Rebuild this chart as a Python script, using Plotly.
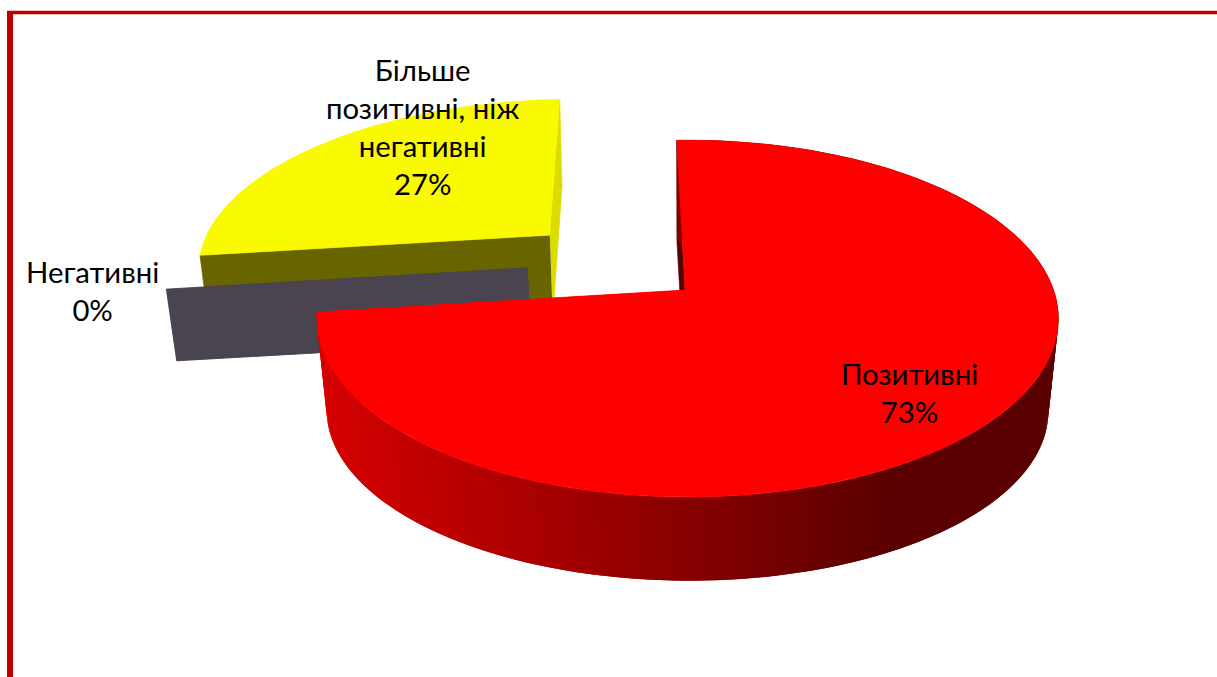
"""3D-style exploded pie drawn as filled polygons (Plotly has no perspective pie)."""

import numpy as np
import plotly.graph_objects as go

CATEGORIES = ["Позитивні", "Негативні", "Більше<br>позитивні, ніж<br>негативні"]
SHARES = [73, 0, 27]

TOP_COLORS = ["#FF0000", "#4A4350", "#F9F900"]
FRONT_WALL_COLORS = ["#FF0000", "#4A4350", "#686400"]
END_WALL_COLORS = ["#5A0000", "#4A4350", "#DCDC00"]
OFFSETS = [(0.0, 0.0), (-0.44, -0.13), (-0.39, -0.333)]  # explosion in disc units
THICKNESS = [1.0, 0.76, 0.85]
LABEL_X = [909, 92, 422]
LABEL_Y = [392, 290, 126]

FONT = "Lato, Carlito, 'Open Sans', sans-serif"
FONT_SIZE = 29.3
FRAME = "#C00000"

# projection of the unit disc into the 1217x677 canvas
CX, CY = 685, 290
A, B_TOP, B_BOTTOM = 366, 173.9, 155
K, H, M, DEPTH = 0.16, 0.007, 0.027, 97
RED_START_TILT = -1.5
YELLOW_END_TILT = -1.5


def project(u, v, z=0.0):
    """Perspective projection of disc point (u, v) at depth z (0 top, 1 bottom)."""
    w = 1 - K * v - H * u + M * z
    b = B_TOP + (B_BOTTOM - B_TOP) * z
    return CX + A * u / w, CY + (b * v + DEPTH * z) / w


def rim(deg, off):
    t = np.radians(deg)
    return off[0] + np.sin(t), off[1] - np.cos(t)


def add_poly(fig, x, y, color, width=0.6):
    fig.add_trace(go.Scatter(
        x=list(x), y=list(y), mode="lines", fill="toself", fillcolor=color,
        line=dict(color=color, width=width), hoverinfo="skip", showlegend=False,
    ))


def wall_color(x):
    # side wall darkens from left to right, flat past x=880
    f = min(max((x - 320) / 560, 0), 1)
    return f"rgb({int(216 + (90 - 216) * f)},0,0)"


def end_walls(fig, i, a0, a1):
    off, th = OFFSETS[i], THICKNESS[i]
    # wall at the start of the slice
    ox, oy = rim(a0, off)
    px, py = project(np.array([off[0], ox, ox, off[0]]), np.array([off[1], oy, oy, off[1]]),
                     np.array([0, 0, th, th]))
    add_poly(fig, px, py, END_WALL_COLORS[i])
    # wall at the end of the slice
    ox, oy = rim(a1, off)
    px, py = project(np.array([off[0], ox, ox, off[0]]), np.array([off[1], oy, oy, off[1]]),
                     np.array([0, 0, th, th]))
    add_poly(fig, px, py, FRONT_WALL_COLORS[i])


def top_face(fig, i, a0, a1):
    off = OFFSETS[i]
    deg = np.linspace(a0, a1, 200)
    u, v = rim(deg, off)
    px, py = project(np.r_[off[0], u], np.r_[off[1], v])
    add_poly(fig, px, py, TOP_COLORS[i])


# slice angles follow the shares, clockwise from the top
edges = np.cumsum([0] + SHARES) * 3.6
red_start = edges[0] + RED_START_TILT
yellow_end = edges[3] + YELLOW_END_TILT

fig = go.Figure()

# yellow slice first (farthest), then the zero slice, then the big one
end_walls(fig, 2, yellow_end, edges[2])
top_face(fig, 2, edges[2], yellow_end)

end_walls(fig, 1, edges[2], edges[1])

end_walls(fig, 0, red_start, edges[1])
steps = np.arange(red_start, edges[1], 1.0)
for d0 in steps:
    # each strip runs under the next one so no seams show
    u0, v0 = rim(d0, OFFSETS[0])
    u1, v1 = rim(min(d0 + 2.0, edges[1]), OFFSETS[0])
    xs, ys = project(np.array([u0, u1, u1, u0]), np.array([v0, v1, v1, v0]),
                     np.array([0, 0, 1, 1]))
    add_poly(fig, xs, ys, wall_color(xs[2]), width=0)
top_face(fig, 0, red_start, edges[1])

for name, share, lx, ly in zip(CATEGORIES, SHARES, LABEL_X, LABEL_Y):
    fig.add_annotation(
        x=lx, y=ly, text=f"{name}<br>{share}%", showarrow=False,
        font=dict(family=FONT, size=FONT_SIZE, color="#000000"), align="center",
    )

# dark red frame, cut off by the right and bottom of the picture
fig.add_shape(type="line", x0=10, x1=10, y0=11, y1=690, line=dict(color=FRAME, width=6))
fig.add_shape(type="line", x0=7, x1=1230, y0=12.5, y1=12.5, line=dict(color=FRAME, width=3.5))

fig.update_xaxes(range=[0, 1217], visible=False, fixedrange=True)
fig.update_yaxes(range=[677, 0], visible=False, fixedrange=True)
fig.update_layout(
    width=1217, height=677, margin=dict(l=0, r=0, t=0, b=0),
    plot_bgcolor="#FFFFFF", paper_bgcolor="#FFFFFF", showlegend=False,
)
fig.write_html(
    "out.html",
    config={"displayModeBar": False},
    post_script="document.body.style.margin='0';document.documentElement.style.overflow='hidden';",
)
